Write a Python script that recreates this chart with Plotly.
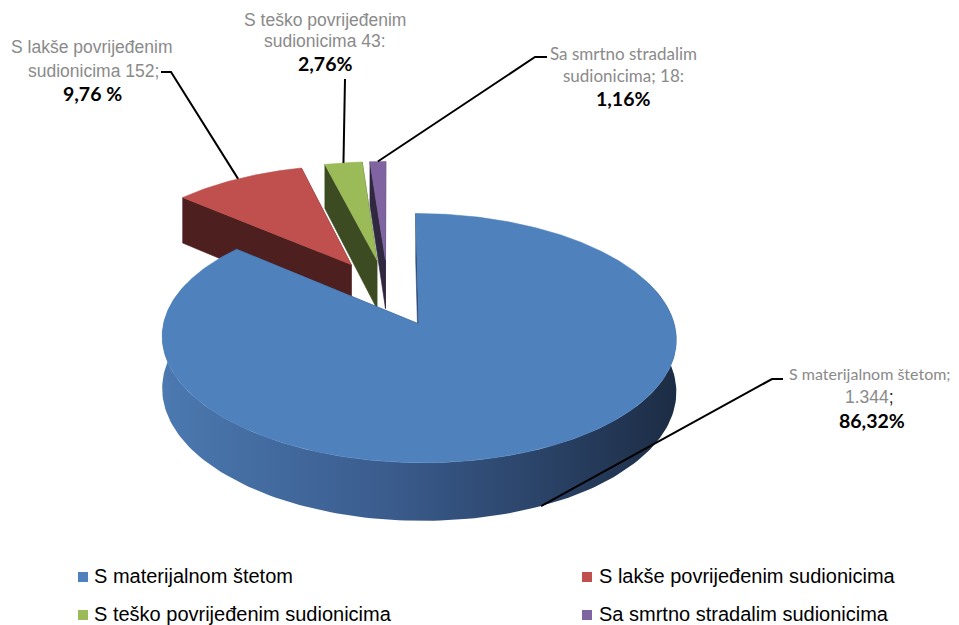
import numpy as np
import plotly.graph_objects as go

# ---------------- data ----------------
categories = ["S materijalnom štetom", "S lakše povrijeđenim sudionicima",
              "S teško povrijeđenim sudionicima", "Sa smrtno stradalim sudionicima"]
counts = [1344, 152, 43, 18]
count_labels = ["1.344", "152", "43", "18"]
percent_labels = ["86,32%", "9,76 %", "2,76%", "1,16%"]
label_line1 = ["S materijalnom štetom;", "S lakše povrijeđenim", "S teško povrijeđenim", "Sa smrtno stradalim"]
label_line2 = [count_labels[0] + ";", "sudionicima " + count_labels[1] + ";",
               "sudionicima " + count_labels[2] + ":", "sudionicima; " + count_labels[3] + ":"]

# ---------------- style ----------------
top_colors = ["#4F81BD", "#C0504D", "#9BBB59", "#8064A2"]
side_colors = ["#2c4870", "#4e1f1f", "#3d4b22", "#30283f"]
W, HF = 959, 625
CX, CY, RX, RY, PERSP, DEPTH, EXPLODE = 388.0, 292.5, 248.0, 116.0, 0.11, 50.0, 0.29
ARIAL = "Liberation Sans, Arial, sans-serif"
CALIBRI = "Lato, Liberation Sans, sans-serif"
GREY = "#8a8a8a"


def proj(X, Z, down=0.0):
    s = 1.0 / (1.0 - PERSP * Z)
    return CX + RX * X * s, CY + RY * Z * s + DEPTH * s * down


fig = go.Figure()


def poly(xs, ys, color, gradient=None):
    kw = dict(x=list(xs), y=list(ys), mode="lines", fill="toself",
              line=dict(width=0.6, color=color), hoverinfo="skip", showlegend=False)
    if gradient is not None:
        kw["fillgradient"] = gradient
        kw["line"] = dict(width=0)
    else:
        kw["fillcolor"] = color
    fig.add_trace(go.Scatter(**kw))


total = float(sum(counts))
fr = np.array(counts) / total
starts = np.concatenate([[0.0], np.cumsum(fr)[:-1]]) * 360.0
ends = np.cumsum(fr) * 360.0

slices = []
for i in range(len(counts)):
    a0, a1 = starts[i], ends[i]
    m = np.radians((a0 + a1) / 2)
    ox, oz = EXPLODE * np.sin(m), -EXPLODE * np.cos(m)
    slices.append((i, a0, a1, ox, oz))

anchors = {}
# draw far slices first, blue (nearest) last
order = sorted(slices, key=lambda s: s[4])
for (i, a0, a1, ox, oz) in order:
    def pt(theta_deg, down=0.0):
        t = np.radians(theta_deg)
        return proj(ox + np.sin(t), oz - np.cos(t), down)

    cxt, cyt = proj(ox, oz, 0)
    cxb, cyb = proj(ox, oz, 1)

    # radial faces (back-facing first)
    faces = []
    for ang, nang in ((a0, a0 - 90), (a1, a1 + 90)):
        zn = -np.cos(np.radians(nang))
        faces.append((zn, ang))
    faces.sort()
    for zn, ang in faces:
        ox1, oy1 = pt(ang, 0)
        ox2, oy2 = pt(ang, 1)
        poly([cxt, ox1, ox2, cxb, cxt], [cyt, oy1, oy2, cyb, cyt], side_colors[i])

    # outer cylindrical side
    s0, s1 = max(a0, 70.0), min(a1, 290.0)
    if s1 > s0:
        th = np.linspace(s0, s1, 160)
        tx, ty = zip(*[pt(t, 0) for t in th])
        bx, by = zip(*[pt(t, 1) for t in th[::-1]])
        xs = list(tx) + list(bx) + [tx[0]]
        ys = list(ty) + list(by) + [ty[0]]
        if i == 0:
            grad = dict(type="horizontal",
                        colorscale=[[0, "#4b79b0"], [0.45, "#3a5b8c"], [0.75, "#2a4266"], [1, "#1c2c44"]])
            poly(xs, ys, side_colors[i], gradient=grad)
        else:
            poly(xs, ys, side_colors[i])

    # top face
    th = np.linspace(a0, a1, max(8, int((a1 - a0) * 2)))
    ax, ay = zip(*[pt(t, 0) for t in th])
    poly([cxt] + list(ax) + [cxt], [cyt] + list(ay) + [cyt], top_colors[i])

    mid = (a0 + a1) / 2
    anchors[i] = pt(mid, 1.0 if i == 0 else 0.0)

# ---------------- leader lines ----------------
label_knees = {0: [(783, 379), (772, 379)], 1: [(161, 72), (171, 72)],
               2: [(345, 79)], 3: [(547, 57), (535, 57)]}
for i in range(4):
    pts = label_knees[i] + [anchors[i]]
    fig.add_trace(go.Scatter(x=[p[0] for p in pts], y=[p[1] for p in pts], mode="lines",
                             line=dict(color="black", width=2), hoverinfo="skip", showlegend=False))

# ---------------- data labels ----------------
label_pos = {
    0: [(870, 373, CALIBRI), (869, 397, ARIAL), (872, 420)],
    1: [(91, 47, ARIAL), (93, 71, ARIAL), (92, 93)],
    2: [(325, 20, ARIAL), (325, 41, ARIAL), (325, 63)],
    3: [(623, 53, CALIBRI), (623, 75, CALIBRI), (623, 98)],
}
for i in range(4):
    (x1, y1, f1), (x2, y2, f2), (x3, y3) = label_pos[i]
    t2 = label_line2[i]
    if i == 0:
        t2 = count_labels[0] + '<span style="color:#222">;</span>'
    for j, (x, y, f, t) in enumerate(((x1, y1, f1, label_line1[i]), (x2, y2, f2, t2))):
        size = 17.5 if f == ARIAL else 17
        if i == 0 and j == 0:
            size = 16
        fig.add_annotation(x=x, y=y, xref="x", yref="y", text=t, showarrow=False,
                           xanchor="center", yanchor="middle",
                           font=dict(family=f, size=size, color=GREY))
    fig.add_annotation(x=x3, y=y3, xref="x", yref="y", text="<b>" + percent_labels[i] + "</b>",
                       showarrow=False, xanchor="center", yanchor="middle",
                       font=dict(family=CALIBRI, size=19.5, color="black"))

# ---------------- legend (2x2 grid of keys + texts) ----------------
key_x = [83, 587]
text_x = [92, 597]
row_y = [577, 615]
for i, cat in enumerate(categories):
    c, r = i % 2, i // 2
    fig.add_trace(go.Scatter(x=[key_x[c]], y=[row_y[r]], mode="markers", name=cat,
                             marker=dict(symbol="square", size=10, color=top_colors[i]),
                             hoverinfo="skip", showlegend=False))
    fig.add_annotation(x=text_x[c], y=row_y[r] - 1, xref="x", yref="y", text=cat, showarrow=False,
                       xanchor="left", yanchor="middle",
                       font=dict(family=ARIAL, size=20, color="black"))

fig.update_layout(
    width=W, height=HF, margin=dict(l=0, r=0, t=0, b=0),
    paper_bgcolor="white", plot_bgcolor="white",
    xaxis=dict(range=[0, W], visible=False, fixedrange=True),
    yaxis=dict(range=[HF, 0], visible=False, fixedrange=True),
    showlegend=False,
)

fig.write_html("out.html", config={"displayModeBar": False},
               post_script="document.body.style.margin='0px';")
